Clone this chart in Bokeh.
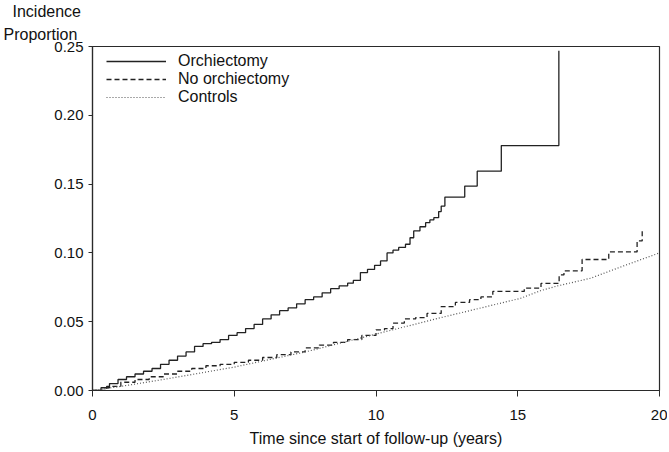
from bokeh.plotting import figure
from bokeh.models import FixedTicker, NumeralTickFormatter, Title, Legend, LegendItem, Range1d
from bokeh.embed import file_html
from bokeh.resources import INLINE

# Orchiectomy (Kaplan-Meier style step curve)
orch_t = [0, 0.3, 0.6, 0.9, 1.2, 1.5, 1.8, 2.1, 2.4, 2.7, 3.0, 3.3, 3.6, 3.9, 4.2, 4.5,
          4.8, 5.1, 5.4, 5.7, 6.0, 6.3, 6.6, 6.9, 7.2, 7.5, 7.8, 8.1, 8.4, 8.7, 9.0, 9.2,
          9.45, 9.7, 9.95, 10.16, 10.39, 10.6, 10.8, 11.04, 11.2, 11.33, 11.55, 11.75,
          11.9, 12.04, 12.21, 12.3, 12.43, 13.13, 13.57, 14.42, 16.45]
orch_v = [0, 0.002, 0.005, 0.008, 0.010, 0.012, 0.014, 0.016, 0.019, 0.022, 0.025, 0.028,
          0.032, 0.034, 0.035, 0.037, 0.040, 0.042, 0.045, 0.048, 0.052, 0.055, 0.058,
          0.060, 0.063, 0.066, 0.068, 0.071, 0.074, 0.076, 0.078, 0.080, 0.0857, 0.088,
          0.091, 0.0942, 0.100, 0.102, 0.104, 0.1063, 0.111, 0.116, 0.119, 0.122, 0.124,
          0.1256, 0.130, 0.134, 0.1406, 0.1486, 0.1594, 0.178, 0.247]

# No orchiectomy
noorch_t = [0, 0.5, 1.0, 1.5, 2.0, 2.5, 3.0, 3.5, 4.0, 4.5, 5.0, 5.5, 6.0, 6.5, 7.0, 7.5,
            8.0, 8.5, 9.0, 9.5, 10.0, 10.3, 10.6, 11.0, 11.4, 11.8, 12.3, 12.8, 13.3,
            13.7, 14.12, 15.23, 15.82, 16.46, 16.63, 17.27, 18.21, 19.21, 19.39]
noorch_v = [0, 0.003, 0.006, 0.008, 0.010, 0.012, 0.014, 0.016, 0.018, 0.019, 0.0205,
            0.022, 0.024, 0.026, 0.028, 0.031, 0.033, 0.035, 0.037, 0.040, 0.044, 0.045,
            0.049, 0.052, 0.053, 0.056, 0.061, 0.064, 0.066, 0.068, 0.072, 0.0744, 0.0778,
            0.084, 0.087, 0.0952, 0.1007, 0.1087, 0.116]

# Controls
ctrl_t = [0, 1, 2.5, 5, 7.5, 10, 12.3, 15.1, 15.8, 16.4, 17.57, 18.74, 20]
ctrl_v = [0, 0.003, 0.008, 0.017, 0.028, 0.041, 0.053, 0.067, 0.0725, 0.076, 0.0816, 0.0906, 0.100]

x_ticks = [0, 5, 10, 15, 20]
y_ticks = [0.0, 0.05, 0.10, 0.15, 0.20, 0.25]
y_title_lines = ["Incidence", "Proportion"]

FONT = "Liberation Sans"
INK = "#2a2a2a"
TXT = "#111111"

p = figure(width=667, height=450, output_backend="svg", toolbar_location=None,
           x_range=Range1d(0, 20), y_range=Range1d(0, 0.25),
           min_border_left=92, min_border_right=8, min_border_top=45, min_border_bottom=60)
p.xgrid.visible = False
p.ygrid.visible = False
p.outline_line_color = INK
p.outline_line_width = 1.2
p.background_fill_color = "white"
p.border_fill_color = "white"

for ax in (p.xaxis[0], p.yaxis[0]):
    ax.axis_line_color = INK
    ax.axis_line_width = 1.2
    ax.major_tick_line_color = INK
    ax.minor_tick_line_color = None
    ax.major_tick_in = 0
    ax.major_label_text_font = FONT
    ax.major_label_text_font_size = "15px"
    ax.major_label_text_color = TXT

p.xaxis.ticker = FixedTicker(ticks=x_ticks)
p.yaxis.ticker = FixedTicker(ticks=y_ticks)
p.yaxis.formatter = NumeralTickFormatter(format="0.00")
p.xaxis.major_tick_out = 6
p.yaxis.major_tick_out = 4
p.xaxis.major_label_standoff = 13
p.yaxis.major_label_standoff = 5

p.xaxis.axis_label = "Time since start of follow-up (years)"
p.xaxis.axis_label_text_font = FONT
p.xaxis.axis_label_text_font_size = "16px"
p.xaxis.axis_label_text_font_style = "normal"
p.xaxis.axis_label_text_color = TXT
p.xaxis.axis_label_standoff = 7

# y-axis title, horizontal above the axis (two stacked titles; later ones sit nearer the frame)
p.title.text = y_title_lines[0]
p.title.align = "left"
p.title.offset = -80
p.title.text_font = FONT
p.title.text_font_size = "16px"
p.title.text_font_style = "normal"
p.title.text_line_height = 1.0
p.title.text_color = TXT
p.title.standoff = 0
t2 = Title(text=y_title_lines[1], align="left", offset=-89, text_font=FONT,
           text_font_size="16px", text_font_style="normal", text_color=TXT,
           text_line_height=1.0, standoff=8)
p.add_layout(t2, "above")

r1 = p.step(orch_t, orch_v, mode="after", line_color="#222222", line_width=1.3)
r2 = p.step(noorch_t, noorch_v, mode="after", line_color="#222222", line_width=1.3,
            line_dash="5 3")
r3 = p.line(ctrl_t, ctrl_v, line_color="#555555", line_width=1.2, line_dash="1 2")

legend = Legend(items=[LegendItem(label="Orchiectomy", renderers=[r1]),
                       LegendItem(label="No orchiectomy", renderers=[r2]),
                       LegendItem(label="Controls", renderers=[r3])],
                location=(14, 284))
legend.border_line_color = None
legend.background_fill_alpha = 0
legend.label_text_font = FONT
legend.label_text_font_size = "16px"
legend.label_text_line_height = 1.0
legend.label_text_color = TXT
legend.glyph_width = 60
legend.glyph_height = 14
legend.label_height = 14
legend.spacing = 0
legend.padding = 0
legend.margin = 0
legend.label_standoff = 12
p.add_layout(legend)

open("out.html", "w").write(file_html(p, INLINE))
